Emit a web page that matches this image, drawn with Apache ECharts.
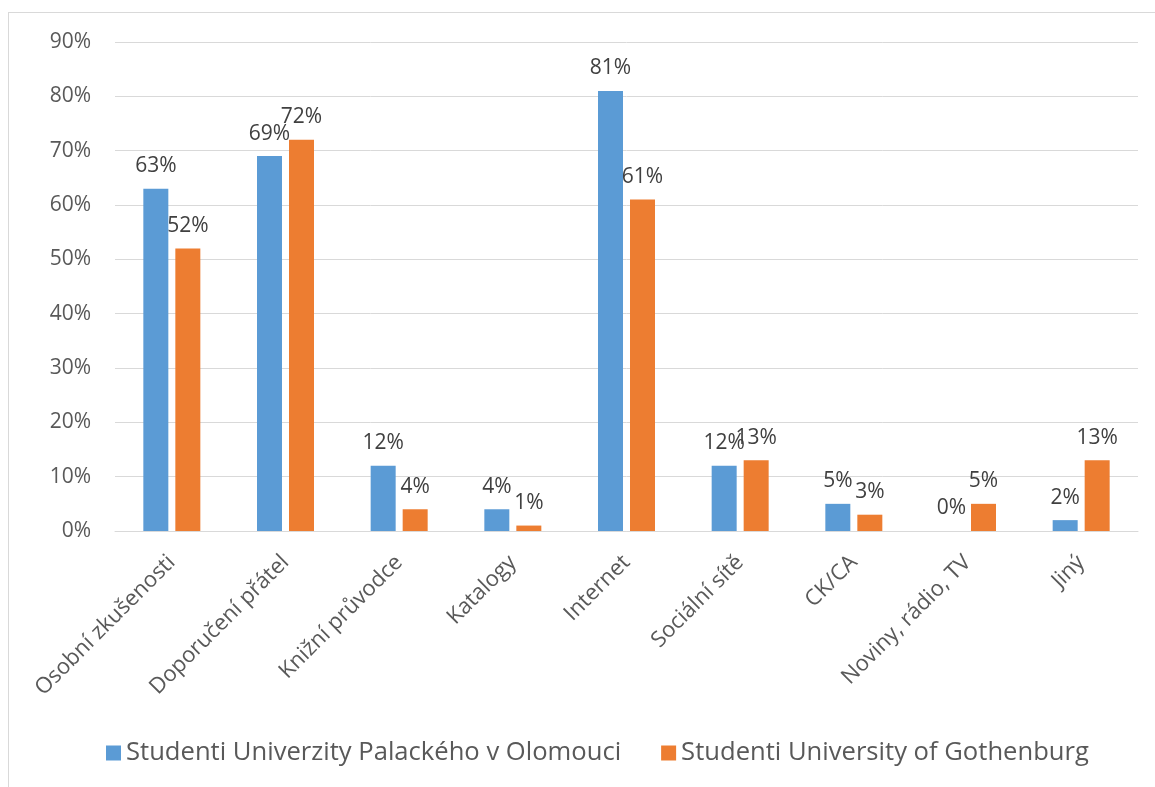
<!DOCTYPE html>
<html>
<head>
<meta charset="utf-8">
<script src="https://cdn.jsdelivr.net/npm/echarts@6/dist/echarts.min.js"></script>
<style>
  html, body { margin: 0; padding: 0; background: #fff; }
  #frame { position: absolute; left: 8px; top: 12px; width: 1160px; height: 790px; border: 1px solid #d9d9d9; box-sizing: border-box; }
  #chart { position: absolute; left: 0; top: 0; width: 1155px; height: 787px; }
</style>
</head>
<body>
<div id="frame"></div>
<div id="chart"></div>
<script>
// Sources of travel information, share of respondents (%)
const categories = [
  'Osobní zkušenosti', 'Doporučení přátel', 'Knižní průvodce', 'Katalogy',
  'Internet', 'Sociální sítě', 'CK/CA', 'Noviny, rádio, TV', 'Jiný'
];
const seriesNames = ['Studenti Univerzity Palackého v Olomouci', 'Studenti University of Gothenburg'];
const olomouc = [63, 69, 12, 4, 81, 12, 5, 0, 2];
const gothenburg = [52, 72, 4, 1, 61, 13, 3, 5, 13];
const yTicks = { min: 0, max: 90, interval: 10 };

const font = 'Open Sans, Noto Sans, sans-serif';
const chart = echarts.init(document.getElementById('chart'), null, { renderer: 'canvas' });

function barSeries(name, data, color) {
  return {
    name, type: 'bar', data,
    barWidth: 25, barGap: '28%',
    itemStyle: { color },
    label: {
      show: true, position: 'top', distance: 12,
      formatter: '{c}%', color: '#404040', fontSize: 21, fontFamily: font
    }
  };
}

chart.setOption({
  animation: false,
  backgroundColor: 'transparent',
  grid: { left: 115, right: 17, top: 42, bottom: 256, containLabel: false },
  xAxis: {
    type: 'category', data: categories,
    axisLine: { lineStyle: { color: '#d9d9d9', width: 1 } },
    axisTick: { show: false },
    axisLabel: { rotate: 45, interval: 0, margin: 28, color: '#595959', fontSize: 22, fontFamily: font }
  },
  yAxis: {
    type: 'value', min: yTicks.min, max: yTicks.max, interval: yTicks.interval,
    axisLine: { show: false }, axisTick: { show: false },
    splitLine: { lineStyle: { color: '#d9d9d9', width: 1 } },
    axisLabel: { formatter: '{value}%', margin: 24, color: '#595959', fontSize: 21, fontFamily: font }
  },
  legend: {
    bottom: 16, left: 101,
    itemWidth: 15, itemHeight: 15, itemGap: 40,
    icon: 'rect',
    textStyle: { color: '#595959', fontSize: 25.6, fontFamily: font },
    data: seriesNames
  },
  series: [
    barSeries(seriesNames[0], olomouc, '#5b9bd5'),
    barSeries(seriesNames[1], gothenburg, '#ed7d31')
  ]
});
</script>
</body>
</html>
